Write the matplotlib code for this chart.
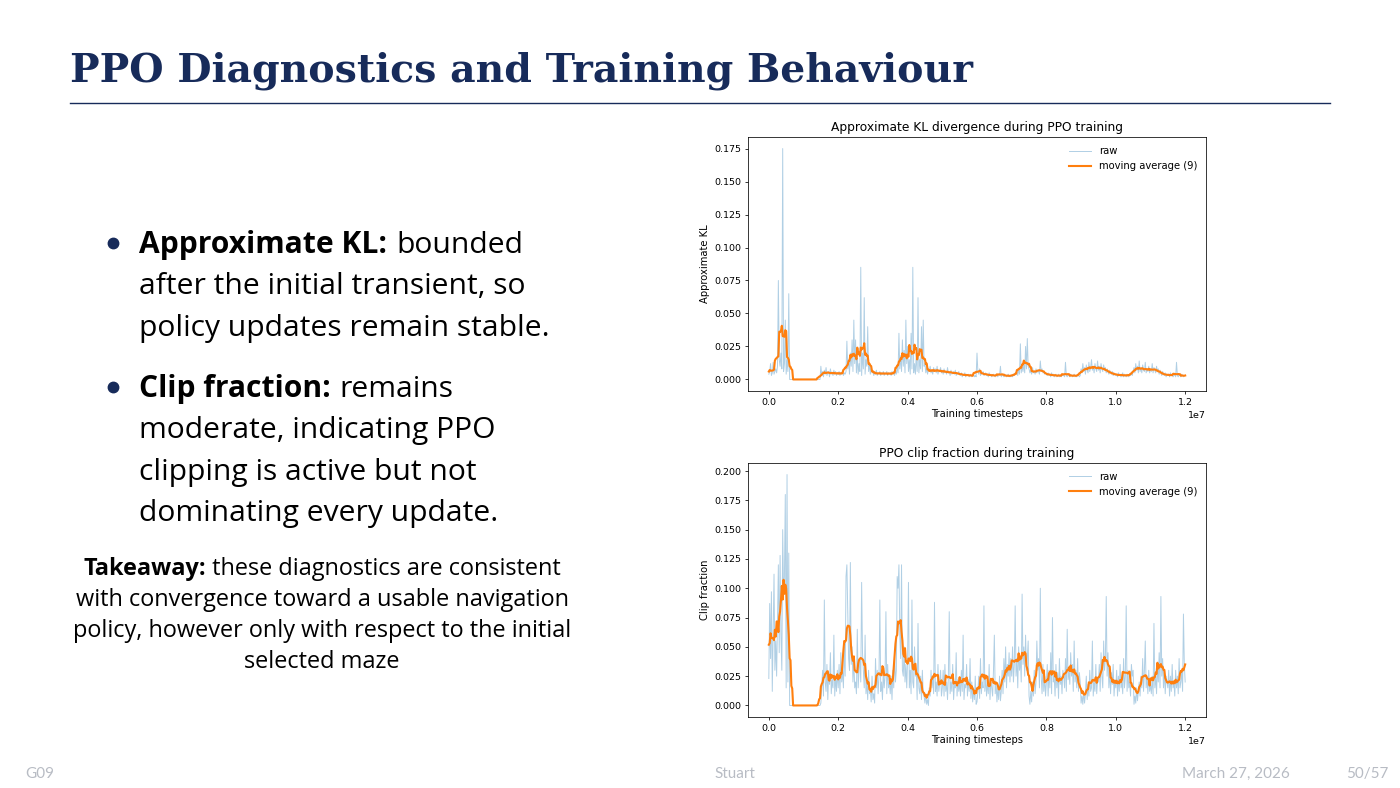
import numpy as np
import pandas as pd
import matplotlib
matplotlib.use("Agg")
from matplotlib import pyplot as plt
from matplotlib.lines import Line2D
from matplotlib.ticker import MultipleLocator

# logging interval of the PPO run (timesteps between two updates)
step = 25000

# approximate KL, one value per update, 0.5M timesteps per row
kl_raw = [
    0.004, 0.006, 0.012, 0.003, 0.005, 0.013, 0.004, 0.006, 0.008, 0.005, 0.010, 0.075, 0.015, 0.010, 0.020, 0.008, 0.175, 0.006, 0.012, 0.045,
    0.004, 0.015, 0.006, 0.065, 0.0, 0.0, 0.0, 0.0, 0.0, 0.0, 0.0, 0.0, 0.0, 0.0, 0.0, 0.0, 0.0, 0.0, 0.0, 0.0,
    0.0, 0.0, 0.0, 0.0, 0.0, 0.0, 0.0, 0.0, 0.0, 0.0, 0.0, 0.0, 0.0, 0.0, 0.0, 0.0, 0.0, 0.0, 0.0, 0.0,
    0.010, 0.003, 0.006, 0.002, 0.007, 0.004, 0.009, 0.003, 0.005, 0.006, 0.002, 0.008, 0.004, 0.005, 0.003, 0.007, 0.004, 0.006, 0.003, 0.005,
    0.004, 0.006, 0.003, 0.005, 0.004, 0.007, 0.003, 0.005, 0.004, 0.006, 0.029, 0.008, 0.015, 0.004, 0.020, 0.010, 0.030, 0.006, 0.045, 0.012,
    0.030, 0.005, 0.018, 0.004, 0.012, 0.006, 0.085, 0.003, 0.020, 0.008, 0.062, 0.004, 0.015, 0.010, 0.040, 0.006, 0.012, 0.004, 0.010, 0.005,
    0.006, 0.003, 0.005, 0.004, 0.007, 0.003, 0.005, 0.004, 0.006, 0.003, 0.005, 0.004, 0.006, 0.003, 0.005, 0.004, 0.006, 0.003, 0.005, 0.004,
    0.005, 0.003, 0.006, 0.004, 0.005, 0.003, 0.007, 0.004, 0.010, 0.005, 0.035, 0.008, 0.018, 0.006, 0.030, 0.010, 0.022, 0.005, 0.045, 0.012,
    0.025, 0.006, 0.015, 0.004, 0.035, 0.008, 0.085, 0.005, 0.012, 0.004, 0.020, 0.006, 0.062, 0.005, 0.015, 0.008, 0.040, 0.006, 0.045, 0.010,
    0.012, 0.005, 0.009, 0.004, 0.008, 0.006, 0.010, 0.005, 0.007, 0.004, 0.009, 0.006, 0.008, 0.005, 0.010, 0.004, 0.007, 0.006, 0.009, 0.005,
    0.007, 0.004, 0.008, 0.005, 0.006, 0.004, 0.009, 0.005, 0.006, 0.003, 0.007, 0.004, 0.005, 0.006, 0.004, 0.007, 0.003, 0.005, 0.004, 0.006,
    0.004, 0.003, 0.005, 0.002, 0.004, 0.003, 0.005, 0.002, 0.004, 0.003, 0.004, 0.002, 0.003, 0.004, 0.002, 0.003, 0.004, 0.002, 0.003, 0.002,
    0.020, 0.006, 0.004, 0.008, 0.003, 0.005, 0.004, 0.006, 0.003, 0.004, 0.005, 0.003, 0.004, 0.002, 0.005, 0.003, 0.004, 0.002, 0.003, 0.004,
    0.003, 0.002, 0.004, 0.003, 0.002, 0.004, 0.003, 0.010, 0.002, 0.004, 0.003, 0.002, 0.004, 0.003, 0.002, 0.003, 0.004, 0.002, 0.003, 0.002,
    0.003, 0.002, 0.004, 0.003, 0.005, 0.004, 0.006, 0.003, 0.008, 0.004, 0.027, 0.005, 0.010, 0.006, 0.012, 0.005, 0.025, 0.008, 0.031, 0.010,
    0.008, 0.005, 0.007, 0.004, 0.009, 0.005, 0.006, 0.004, 0.008, 0.005, 0.007, 0.006, 0.004, 0.014, 0.006, 0.008, 0.005, 0.006, 0.004, 0.005,
    0.004, 0.003, 0.005, 0.003, 0.004, 0.002, 0.005, 0.003, 0.004, 0.002, 0.003, 0.004, 0.002, 0.003, 0.004, 0.002, 0.003, 0.002, 0.004, 0.003,
    0.003, 0.002, 0.013, 0.003, 0.002, 0.004, 0.003, 0.002, 0.004, 0.003, 0.002, 0.003, 0.004, 0.002, 0.003, 0.002, 0.004, 0.003, 0.002, 0.003,
    0.008, 0.005, 0.012, 0.006, 0.009, 0.004, 0.011, 0.007, 0.005, 0.013, 0.006, 0.009, 0.015, 0.007, 0.010, 0.005, 0.012, 0.008, 0.006, 0.014,
    0.007, 0.010, 0.005, 0.012, 0.008, 0.006, 0.011, 0.007, 0.009, 0.005, 0.008, 0.006, 0.004, 0.007, 0.005, 0.004, 0.006, 0.003, 0.005, 0.004,
    0.003, 0.004, 0.002, 0.005, 0.003, 0.004, 0.002, 0.003, 0.005, 0.002, 0.004, 0.003, 0.002, 0.004, 0.003, 0.002, 0.004, 0.003, 0.005, 0.003,
    0.006, 0.009, 0.005, 0.012, 0.007, 0.010, 0.005, 0.014, 0.006, 0.009, 0.005, 0.011, 0.007, 0.006, 0.013, 0.005, 0.008, 0.006, 0.010, 0.005,
    0.008, 0.006, 0.012, 0.005, 0.009, 0.007, 0.005, 0.010, 0.006, 0.008, 0.004, 0.007, 0.005, 0.003, 0.006, 0.004, 0.003, 0.005, 0.002, 0.004,
    0.003, 0.004, 0.002, 0.005, 0.003, 0.004, 0.002, 0.003, 0.004, 0.002, 0.013, 0.003, 0.002, 0.004, 0.003, 0.002, 0.004, 0.003, 0.002, 0.003,
    0.003,
]

# clip fraction, same updates
clip_raw = [
    0.023, 0.087, 0.040, 0.097, 0.012, 0.060, 0.112, 0.030, 0.055, 0.025, 0.070, 0.120, 0.045, 0.128, 0.060, 0.030, 0.150, 0.095, 0.110, 0.180,
    0.015, 0.197, 0.020, 0.130, 0.0, 0.0, 0.0, 0.0, 0.0, 0.0, 0.0, 0.0, 0.0, 0.0, 0.0, 0.0, 0.0, 0.0, 0.0, 0.0,
    0.0, 0.0, 0.0, 0.0, 0.0, 0.0, 0.0, 0.0, 0.0, 0.0, 0.0, 0.0, 0.0, 0.0, 0.0, 0.0, 0.0, 0.0, 0.0, 0.0,
    0.002, 0.015, 0.030, 0.008, 0.090, 0.020, 0.012, 0.035, 0.005, 0.028, 0.018, 0.045, 0.010, 0.022, 0.015, 0.060, 0.008, 0.025, 0.012, 0.030,
    0.015, 0.035, 0.010, 0.045, 0.020, 0.030, 0.015, 0.050, 0.025, 0.110, 0.120, 0.080, 0.040, 0.030, 0.122, 0.035, 0.050, 0.020, 0.040, 0.015,
    0.020, 0.010, 0.065, 0.015, 0.030, 0.040, 0.020, 0.105, 0.045, 0.030, 0.015, 0.060, 0.010, 0.020, 0.005, 0.030, 0.010, 0.015, 0.003, 0.025,
    0.005, 0.010, 0.002, 0.040, 0.015, 0.030, 0.010, 0.025, 0.090, 0.012, 0.020, 0.005, 0.030, 0.015, 0.025, 0.080, 0.010, 0.035, 0.015, 0.020,
    0.010, 0.025, 0.005, 0.030, 0.015, 0.045, 0.020, 0.030, 0.110, 0.100, 0.120, 0.060, 0.040, 0.120, 0.030, 0.025, 0.050, 0.020, 0.035, 0.015,
    0.040, 0.105, 0.015, 0.030, 0.010, 0.090, 0.020, 0.015, 0.050, 0.025, 0.030, 0.005, 0.070, 0.015, 0.010, 0.025, 0.005, 0.030, 0.010, 0.008,
    0.002, 0.010, 0.001, 0.005, 0.000, 0.015, 0.008, 0.030, 0.015, 0.025, 0.010, 0.088, 0.012, 0.020, 0.008, 0.035, 0.012, 0.020, 0.030, 0.008,
    0.015, 0.030, 0.008, 0.035, 0.012, 0.020, 0.005, 0.025, 0.080, 0.010, 0.020, 0.012, 0.035, 0.005, 0.018, 0.015, 0.045, 0.008, 0.022, 0.012,
    0.020, 0.008, 0.030, 0.012, 0.060, 0.005, 0.018, 0.015, 0.035, 0.008, 0.022, 0.012, 0.040, 0.006, 0.020, 0.003, 0.015, 0.005, 0.025, 0.001,
    0.003, 0.012, 0.025, 0.006, 0.040, 0.010, 0.020, 0.015, 0.085, 0.012, 0.025, 0.008, 0.020, 0.010, 0.035, 0.005, 0.022, 0.015, 0.008, 0.030,
    0.060, 0.010, 0.020, 0.003, 0.015, 0.005, 0.025, 0.004, 0.012, 0.030, 0.010, 0.040, 0.020, 0.050, 0.015, 0.035, 0.025, 0.045, 0.020, 0.040,
    0.025, 0.050, 0.020, 0.035, 0.085, 0.025, 0.040, 0.015, 0.050, 0.030, 0.040, 0.020, 0.095, 0.035, 0.050, 0.025, 0.060, 0.030, 0.040, 0.055,
    0.008, 0.001, 0.012, 0.003, 0.020, 0.008, 0.030, 0.010, 0.020, 0.055, 0.030, 0.040, 0.015, 0.100, 0.025, 0.010, 0.035, 0.012, 0.025, 0.008,
    0.020, 0.035, 0.008, 0.030, 0.015, 0.045, 0.010, 0.075, 0.020, 0.025, 0.008, 0.035, 0.015, 0.028, 0.006, 0.040, 0.018, 0.025, 0.010, 0.030,
    0.025, 0.015, 0.040, 0.012, 0.065, 0.022, 0.030, 0.018, 0.045, 0.025, 0.035, 0.012, 0.055, 0.020, 0.030, 0.015, 0.040, 0.012, 0.028, 0.020,
    0.002, 0.008, 0.001, 0.012, 0.002, 0.010, 0.025, 0.005, 0.018, 0.008, 0.030, 0.012, 0.015, 0.055, 0.008, 0.020, 0.012, 0.035, 0.010, 0.022,
    0.020, 0.035, 0.012, 0.045, 0.025, 0.015, 0.055, 0.030, 0.040, 0.093, 0.025, 0.045, 0.015, 0.030, 0.010, 0.028, 0.018, 0.035, 0.008, 0.022,
    0.015, 0.030, 0.008, 0.025, 0.012, 0.035, 0.015, 0.020, 0.010, 0.040, 0.015, 0.025, 0.085, 0.012, 0.030, 0.015, 0.020, 0.008, 0.035, 0.025,
    0.030, 0.001, 0.008, 0.002, 0.015, 0.004, 0.012, 0.020, 0.008, 0.025, 0.015, 0.040, 0.012, 0.030, 0.055, 0.015, 0.025, 0.010, 0.030, 0.012,
    0.018, 0.010, 0.025, 0.008, 0.070, 0.015, 0.025, 0.010, 0.035, 0.020, 0.045, 0.015, 0.093, 0.025, 0.040, 0.015, 0.030, 0.010, 0.025, 0.020,
    0.015, 0.030, 0.008, 0.025, 0.012, 0.035, 0.015, 0.020, 0.008, 0.030, 0.015, 0.025, 0.010, 0.040, 0.015, 0.020, 0.030, 0.012, 0.078, 0.035,
    0.020,
]

timesteps = np.arange(len(kl_raw)) * step
window = 9
kl_ma = pd.Series(kl_raw).rolling(window, center=True, min_periods=1).mean()
clip_ma = pd.Series(clip_raw).rolling(window, center=True, min_periods=1).mean()

W, H = 1400, 788
navy = "#172b5a"
slide_font = "Open Sans"

fig = plt.figure(figsize=(W / 100, H / 100), dpi=100)


def put(x, y, s, **kw):
    # x, y in pixels from the top-left corner of the slide
    return fig.text(x / W, 1 - y / H, s, va="baseline", **kw)


# slide title + rule
put(70, 81, "PPO Diagnostics and Training Behaviour", family="DejaVu Serif",
    weight="bold", size=28.4, color=navy)
fig.add_artist(Line2D([70 / W, 1330 / W], [1 - 103 / H, 1 - 103 / H],
                      color=navy, lw=1.0, transform=fig.transFigure))

renderer = fig.canvas.get_renderer()


def bold_then_regular(x, y, bold, rest, size):
    t = put(x, y, bold, family=slide_font, weight="bold", size=size, color="black")
    bb = t.get_window_extent(renderer)
    put(bb.x1 + 9, y, rest, family=slide_font, size=size, color="black")


bullet_size = 21.6
bullets = [
    (253, "Approximate KL:", "bounded",
     ["after the initial transient, so", "policy updates remain stable."]),
    (397, "Clip fraction:", "remains",
     ["moderate, indicating PPO", "clipping is active but not", "dominating every update."]),
]
for y0, head, rest, lines in bullets:
    fig.add_artist(Line2D([113 / W], [1 - (y0 - 10) / H], marker="o", markersize=7.5,
                          color=navy, transform=fig.transFigure))
    bold_then_regular(139, y0, head, rest, bullet_size)
    for k, line in enumerate(lines):
        put(139, y0 + 41.5 * (k + 1), line, family=slide_font, size=bullet_size, color="black")

# takeaway block, centred
take_lines = [
    "with convergence toward a usable navigation",
    "policy, however only with respect to the initial",
    "selected maze",
]
take_size = 16.9
t1 = put(0, 575, "Takeaway:", family=slide_font, weight="bold", size=take_size)
t2 = put(0, 575, " these diagnostics are consistent", family=slide_font, size=take_size)
w1 = t1.get_window_extent(renderer).width
w2 = t2.get_window_extent(renderer).width
x_start = 322 - (w1 + w2) / 2
t1.set_x(x_start / W)
t2.set_x((x_start + w1) / W)
for k, line in enumerate(take_lines):
    put(322, 575 + 31 * (k + 1), line, family=slide_font, size=take_size, ha="center")

# footer
foot = dict(family="Lato", size=11, color="#b8bcc4")
put(25, 778, "G09", **foot)
put(735, 778, "Stuart", ha="center", **foot)
put(1290, 778, "March 27, 2026", ha="right", **foot)
put(1388, 778, "50/57", ha="right", **foot)

# the two diagnostic plots
ax_kl = fig.add_axes([748 / W, 1 - 391 / H, 458 / W, 254 / H])
ax_clip = fig.add_axes([748 / W, 1 - 717 / H, 458 / W, 254 / H])

panels = [
    (ax_kl, kl_raw, kl_ma, "Approximate KL divergence during PPO training", "Approximate KL"),
    (ax_clip, clip_raw, clip_ma, "PPO clip fraction during training", "Clip fraction"),
]
fs = 6.8
for ax, raw, ma, title, ylabel in panels:
    ax.plot(timesteps, raw, color="#1f77b4", alpha=0.35, lw=0.7, label="raw")
    ax.plot(timesteps, ma, color="#ff7f0e", lw=1.5, label=f"moving average ({window})")
    ax.set_title(title, fontsize=8.8, pad=4)
    ax.set_xlabel("Training timesteps", fontsize=7.2, labelpad=1.5)
    ax.set_ylabel(ylabel, fontsize=7.2, labelpad=3)
    ax.tick_params(labelsize=fs, length=2.4, width=0.55, pad=2.4)
    ax.yaxis.set_major_locator(MultipleLocator(0.025))
    ax.xaxis.get_offset_text().set_fontsize(fs)
    for sp in ax.spines.values():
        sp.set_linewidth(0.55)
    ax.legend(loc="upper right", fontsize=7.2, frameon=False, handlelength=2.2)

fig.savefig("out.png", dpi=100)
